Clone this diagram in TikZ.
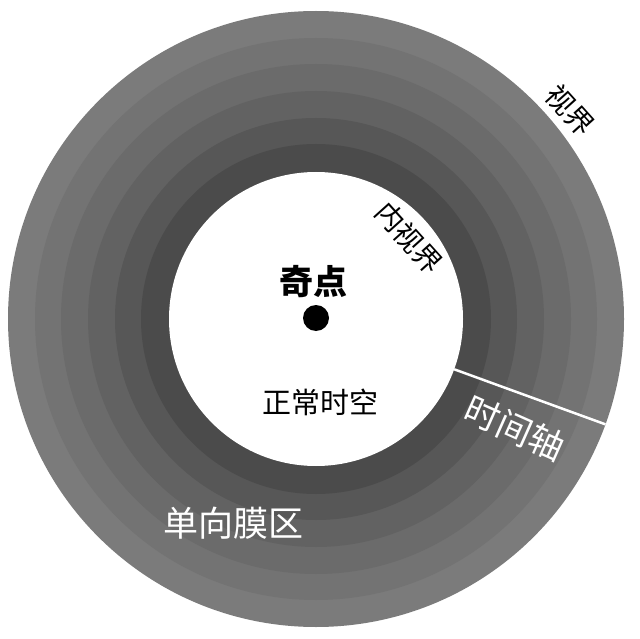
\documentclass[tikz,border=0pt]{standalone}
\usepackage{fontspec}
\usetikzlibrary{calc}
\setmainfont{Noto Sans CJK SC}
\newfontfamily\cjk{Noto Sans CJK SC}
\definecolor{ringA}{HTML}{7B7B7B}
\definecolor{ringB}{HTML}{737373}
\definecolor{ringC}{HTML}{6B6B6B}
\definecolor{ringD}{HTML}{626262}
\definecolor{ringE}{HTML}{575757}
\definecolor{ringF}{HTML}{4B4B4B}
\tikzset{
  lbl/.style={inner sep=0pt, font=\cjk},
}
\begin{document}
\begin{tikzpicture}[x=1pt,y=-1pt]
\useasboundingbox (0,0) rectangle (640,639);
\fill[white] (0,0) rectangle (640,639);
\coordinate (c) at (316,319);
\fill[ringA] (c) circle (308pt);
\fill[ringB] (c) circle (281pt);
\fill[ringC] (c) circle (255pt);
\fill[ringD] (c) circle (228pt);
\fill[ringE] (c) circle (201pt);
\fill[ringF] (c) circle (175pt);
\fill[white] (c) circle (147pt);
\coordinate (t1) at ($(c)+(-20:147pt)$);
\coordinate (t2) at ($(c)+(-20:308pt)$);
\draw[white, line width=2.5pt] (t1) -- (t2);
\node[circle, fill=black, minimum size=26pt, inner sep=0pt] (dot) at (316,318) {};
\node[lbl, font=\cjk\bfseries\fontsize{34}{34}\selectfont] (qd) at (313,282) {奇点};
\node[lbl, font=\cjk\fontsize{29}{29}\selectfont] (zc) at (320,402) {正常时空};
\node[lbl, font=\cjk\fontsize{35}{35}\selectfont, text=white] (dx) at (233,523) {单向膜区};
\node[lbl, font=\cjk\fontsize{35}{35}\selectfont, text=white, rotate=-24] (sj) at (515,428) {时间轴};
\node[lbl, font=\cjk\fontsize{28}{28}\selectfont, rotate=-48] (ns) at (409,238) {内视界};
\node[lbl, font=\cjk\fontsize{28}{28}\selectfont, rotate=-48] (sjie) at (570,110) {视界};
\end{tikzpicture}
\end{document}
